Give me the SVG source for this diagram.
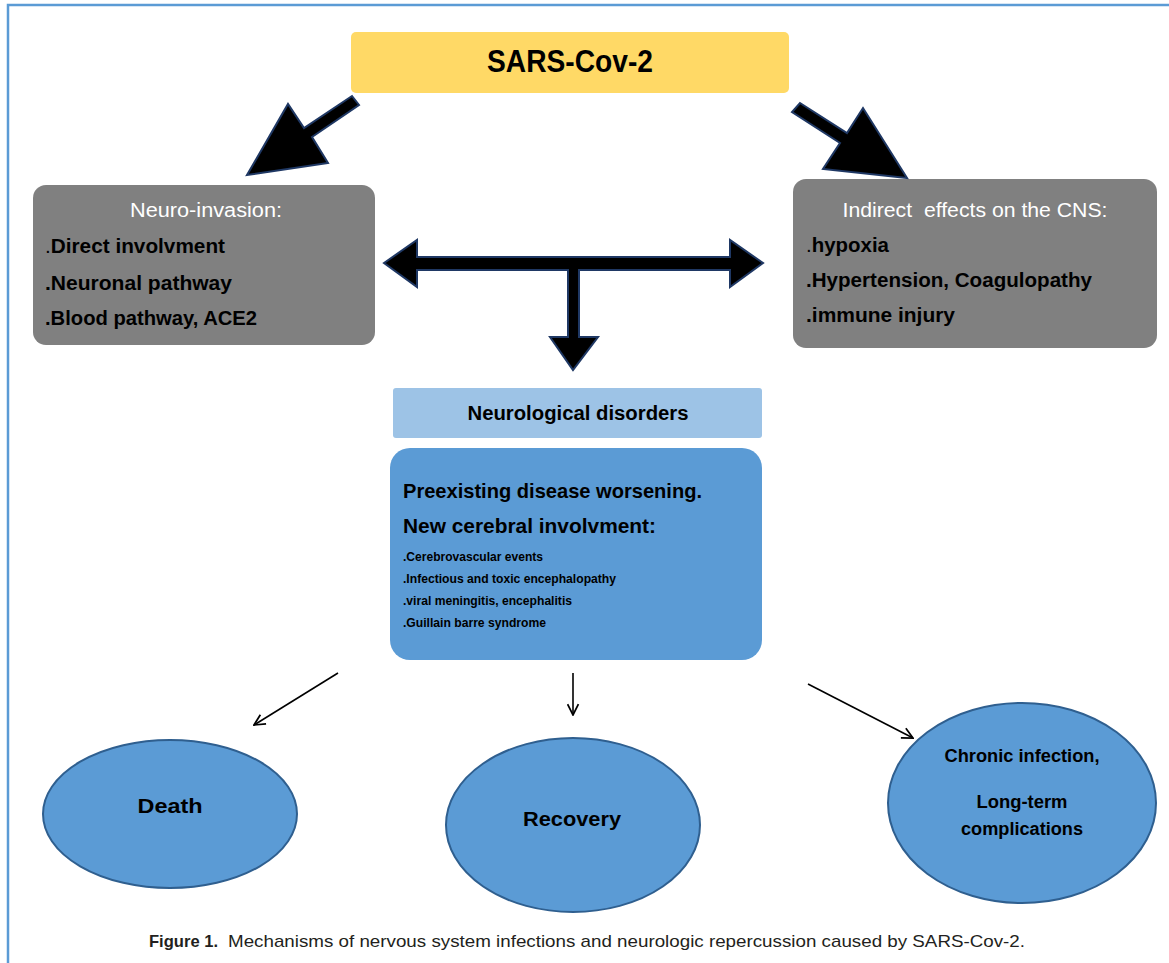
<svg xmlns="http://www.w3.org/2000/svg" width="1169" height="963" viewBox="0 0 1169 963">
<style>
text{font-family:"Liberation Sans",Arial,sans-serif;}
.b{font-weight:bold;fill:#000;}
.w{fill:#fff;font-size:19.5px;}
.it{font-size:20px;}
.sm{font-size:12px;}
.big{stroke:#1F3864;stroke-width:2;fill:#000;stroke-linejoin:miter;}
.thin{stroke:#000;stroke-width:1.6;fill:none;}
.ell{fill:#5B9BD5;stroke:#2F5F8F;stroke-width:2;}
.cap{fill:#231F20;font-size:17px;}
</style>
<defs>
<marker id="open" viewBox="0 0 12 12" refX="11" refY="6" markerWidth="13" markerHeight="13" markerUnits="userSpaceOnUse" orient="auto">
<path d="M1,1 L11,6 L1,11" fill="none" stroke="#000" stroke-width="1.6"/>
</marker>
</defs>
<rect width="1169" height="963" fill="#fff"/>
<path d="M8,963 V5 H1169" fill="none" stroke="#5B9BD5" stroke-width="2.5"/>

<g id="sars">
<rect x="351" y="32" width="438" height="61" rx="5" fill="#FFD966"/>
<text x="570" y="72" class="b" font-size="31" text-anchor="middle" textLength="166" lengthAdjust="spacingAndGlyphs">SARS-Cov-2</text>
</g>

<g id="neuro-invasion">
<rect x="33" y="185" width="342" height="160" rx="13" fill="#808080"/>
<text x="206" y="217" class="w" text-anchor="middle" textLength="152" lengthAdjust="spacingAndGlyphs">Neuro-invasion:</text>
<text x="45" y="253" class="b it" textLength="180" lengthAdjust="spacingAndGlyphs"><tspan font-weight="normal">.</tspan>Direct involvment</text>
<text x="45" y="290" class="b it" textLength="187" lengthAdjust="spacingAndGlyphs">.Neuronal pathway</text>
<text x="45" y="325" class="b it" textLength="212" lengthAdjust="spacingAndGlyphs">.Blood pathway, ACE2</text>
</g>

<g id="indirect">
<rect x="793" y="179" width="364" height="169" rx="13" fill="#808080"/>
<text x="975" y="217" class="w" text-anchor="middle" style="white-space:pre" textLength="265" lengthAdjust="spacingAndGlyphs">Indirect  effects on the CNS:</text>
<text x="806" y="252" class="b it" textLength="83" lengthAdjust="spacingAndGlyphs"><tspan font-weight="normal">.</tspan>hypoxia</text>
<text x="806" y="287" class="b it" textLength="286" lengthAdjust="spacingAndGlyphs">.Hypertension, Coagulopathy</text>
<text x="806" y="322" class="b it" textLength="149" lengthAdjust="spacingAndGlyphs">.immune injury</text>
</g>

<g id="neuro-disorders">
<rect x="393" y="388" width="369" height="50" rx="3" fill="#9DC3E6"/>
<text x="578" y="420" class="b it" text-anchor="middle" textLength="221" lengthAdjust="spacingAndGlyphs">Neurological disorders</text>
</g>

<g id="details">
<rect x="390" y="448" width="372" height="212" rx="20" fill="#5B9BD5"/>
<text x="403" y="498" class="b" font-size="21" textLength="299" lengthAdjust="spacingAndGlyphs">Preexisting disease worsening.</text>
<text x="403" y="533" class="b" font-size="21" textLength="253" lengthAdjust="spacingAndGlyphs">New cerebral involvment:</text>
<text x="403" y="561" class="b sm" textLength="140" lengthAdjust="spacingAndGlyphs">.Cerebrovascular events</text>
<text x="403" y="583" class="b sm" textLength="213" lengthAdjust="spacingAndGlyphs">.Infectious and toxic encephalopathy</text>
<text x="403" y="605" class="b sm" textLength="169" lengthAdjust="spacingAndGlyphs">.viral meningitis, encephalitis</text>
<text x="403" y="627" class="b sm" textLength="143" lengthAdjust="spacingAndGlyphs">.Guillain barre syndrome</text>
</g>

<g id="death">
<ellipse cx="170" cy="814" rx="127" ry="74" class="ell"/>
<text x="170" y="813" class="b" font-size="21" text-anchor="middle" textLength="65" lengthAdjust="spacingAndGlyphs">Death</text>
</g>

<g id="recovery">
<ellipse cx="573" cy="825" rx="127" ry="87" class="ell"/>
<text x="572" y="826" class="b" font-size="21" text-anchor="middle" textLength="98" lengthAdjust="spacingAndGlyphs">Recovery</text>
</g>

<g id="chronic">
<ellipse cx="1022" cy="803" rx="134" ry="100" class="ell"/>
<text x="1022" y="762" class="b" font-size="18" text-anchor="middle" textLength="155" lengthAdjust="spacingAndGlyphs">Chronic infection,</text>
<text x="1022" y="808" class="b" font-size="18" text-anchor="middle" textLength="91" lengthAdjust="spacingAndGlyphs">Long-term</text>
<text x="1022" y="835" class="b" font-size="18" text-anchor="middle" textLength="122" lengthAdjust="spacingAndGlyphs">complications</text>
</g>

<g id="connectors">
<polygon class="big" points="352,96 359,105 312,137 328,163 247,175 288,104 304,128"/>
<polygon class="big" points="800,103 847,133 863,108 907,178 823,169 840,143 792,112"/>
<polygon class="big" points="384,263 417,240 417,257 730,257 730,240 763,263 730,287 730,270 579,270 579,337 598,337 573,370 550,337 568,337 568,270 417,270 417,287"/>
<line x1="338" y1="673" x2="254" y2="725" class="thin" marker-end="url(#open)"/>
<line x1="573" y1="673" x2="573" y2="715" class="thin" marker-end="url(#open)"/>
<line x1="808" y1="684" x2="913" y2="738" class="thin" marker-end="url(#open)"/>
</g>

<g id="caption">
<text x="149" y="947" class="cap" font-weight="bold" textLength="69" lengthAdjust="spacingAndGlyphs">Figure 1.</text>
<text x="228" y="947" class="cap" textLength="797" lengthAdjust="spacingAndGlyphs">Mechanisms of nervous system infections and neurologic repercussion caused by SARS-Cov-2.</text>
</g>
</svg>
